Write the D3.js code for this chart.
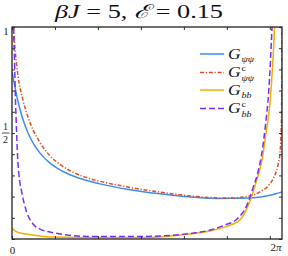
<!DOCTYPE html>
<html>
<head>
<meta charset="utf-8">
<script src="https://cdn.jsdelivr.net/npm/d3@7"></script>
<style>
  html, body { margin: 0; padding: 0; background: #fff; }
  svg { display: block; }
  text { font-family: "Liberation Serif", "DejaVu Serif", serif; }
  .tick text { font-size: 11px; fill: #222; }
</style>
</head>
<body>
<svg id="chart" width="288" height="256"></svg>
<script>
// values (tau on [0, 2pi])
var gPsiX = [0, 0.047, 0.116, 0.186, 0.303, 0.419, 0.535, 0.652, 0.884, 1.117, 1.35, 1.699, 2.048, 2.676, 3.444, 3.979, 4.771, 5.539, 6.004, 6.283];
var gPsiY = [0.788, 0.74, 0.67, 0.612, 0.535, 0.48, 0.438, 0.405, 0.358, 0.326, 0.303, 0.278, 0.26, 0.235, 0.213, 0.201, 0.191, 0.193, 0.206, 0.222];

var gPsiCX = [0.035, 0.07, 0.14, 0.256, 0.372, 0.489, 0.652, 0.884, 1.117, 1.35, 1.699, 2.048, 2.676, 3.444, 4.375, 5.073, 5.539, 5.771, 5.957, 6.096, 6.19, 6.236, 6.271, 6.283];
var gPsiCY = [1.0, 0.90, 0.77, 0.655, 0.575, 0.515, 0.455, 0.392, 0.352, 0.322, 0.292, 0.272, 0.246, 0.221, 0.199, 0.193, 0.203, 0.222, 0.25, 0.292, 0.349, 0.406, 0.56, 1.0];

var gBbX = [0, 0.07, 0.186, 0.489, 0.954, 1.582, 2.979, 4.142, 4.608, 4.957, 5.306, 5.539, 5.69, 5.818, 5.911, 6.004, 6.051, 6.085, 6.109];
var gBbY = [0.052, 0.038, 0.028, 0.019, 0.009, 0.007, 0.007, 0.024, 0.038, 0.057, 0.09, 0.179, 0.274, 0.373, 0.50, 0.642, 0.774, 0.892, 1.0];

var gBbCX = [0.035, 0.058, 0.081, 0.105, 0.128, 0.163, 0.226, 0.342, 0.489, 0.652, 0.884, 1.28, 1.815, 2.979, 4.142, 4.608, 4.957, 5.236, 5.469, 5.608, 5.725, 5.818, 5.911, 5.969, 6.016, 6.051];
var gBbCY = [1.0, 0.844, 0.656, 0.514, 0.396, 0.302, 0.222, 0.127, 0.071, 0.047, 0.033, 0.019, 0.012, 0.012, 0.026, 0.042, 0.066, 0.094, 0.16, 0.241, 0.316, 0.41, 0.56, 0.68, 0.844, 1.0];

var xTicks = [0, 1, 2, 3, 4, 5, 6];
var yTicks = [0, 0.1, 0.2, 0.3, 0.4, 0.5, 0.6, 0.7, 0.8, 0.9, 1];

var series = [
    { name: "psi",  sub: "ψψ", sup: "",  xs: gPsiX,  ys: gPsiY,  color: "#3b8bf0", dash: null },
    { name: "psiC", sub: "ψψ", sup: "c", xs: gPsiCX, ys: gPsiCY, color: "#de4e26", dash: "4,1.8,1.2,1.8" },
    { name: "bb",   sub: "bb", sup: "",  xs: gBbX,   ys: gBbY,   color: "#f0b000", dash: null },
    { name: "bbC",  sub: "bb", sup: "c", xs: gBbCX,  ys: gBbCY,  color: "#7a2cf5", dash: "6,3" }
];

var margin = { left: 12, right: 6, top: 27, bottom: 17 };
var W = 288, H = 256;

var svg = d3.select("#chart");

var x = d3.scaleLinear().domain([0, 2 * Math.PI]).range([margin.left, W - margin.right]);
var y = d3.scaleLinear().domain([0, 1]).range([H - margin.bottom, margin.top]);

// clip so the steep ends stay in the box
svg.append("clipPath").attr("id", "plotclip")
    .append("rect")
    .attr("x", x(0)).attr("y", y(1))
    .attr("width", x(2 * Math.PI) - x(0))
    .attr("height", y(0) - y(1));

// curves
var line = d3.line()
    .x(function (d) { return x(d[0]); })
    .y(function (d) { return y(d[1]); })
    .curve(d3.curveMonotoneX);

var gLines = svg.append("g").attr("clip-path", "url(#plotclip)");
series.forEach(function (s) {
    var pts = s.xs.map(function (v, i) { return [v, s.ys[i]]; });
    gLines.append("path")
        .attr("d", line(pts))
        .attr("fill", "none")
        .attr("stroke", s.color)
        .attr("stroke-width", 1.5)
        .attr("stroke-dasharray", s.dash);
});

// axes: ticks point inward, labels only at 0 (2pi done by hand)
var xLabel = function (d) { return d === 0 ? "0" : ""; };

svg.append("g")
    .attr("transform", "translate(0," + y(0) + ")")
    .call(d3.axisBottom(x).tickValues(xTicks).tickSizeInner(-3).tickSizeOuter(0).tickPadding(7).tickFormat(xLabel));
svg.append("g")
    .attr("transform", "translate(0," + y(1) + ")")
    .call(d3.axisTop(x).tickValues(xTicks).tickSizeInner(-3).tickSizeOuter(0).tickFormat(""));
svg.append("g")
    .attr("transform", "translate(" + x(0) + ",0)")
    .call(d3.axisLeft(y).tickValues(yTicks).tickSizeInner(-3).tickSizeOuter(0).tickFormat(""));
svg.append("g")
    .attr("transform", "translate(" + x(2 * Math.PI) + ",0)")
    .call(d3.axisRight(y).tickValues(yTicks).tickSizeInner(-3).tickSizeOuter(0).tickFormat(""));

svg.selectAll(".domain").remove();
svg.selectAll(".tick line").attr("stroke", "#333").attr("stroke-width", 1);
svg.selectAll(".tick text").attr("font-family", null);

// frame
svg.append("rect")
    .attr("x", x(0)).attr("y", y(1))
    .attr("width", x(2 * Math.PI) - x(0))
    .attr("height", y(0) - y(1))
    .attr("fill", "none")
    .attr("stroke", "#222")
    .attr("stroke-width", 1.3);

// 2pi label, pulled left so it fits
var lab2pi = svg.append("text")
    .attr("x", x(2 * Math.PI) - 6).attr("y", y(0) + 12)
    .attr("text-anchor", "middle")
    .attr("font-size", 11).attr("fill", "#222");
lab2pi.append("tspan").text("2");
lab2pi.append("tspan").attr("font-style", "italic").text("π");

// y labels: 1 and the fraction 1/2
svg.append("text")
    .attr("x", 6).attr("y", y(1) + 8)
    .attr("text-anchor", "middle")
    .attr("font-size", 11).attr("fill", "#222")
    .text("1");
svg.append("text")
    .attr("x", 5.5).attr("y", y(0.5) - 3)
    .attr("text-anchor", "middle")
    .attr("font-size", 10).attr("fill", "#222")
    .text("1");
svg.append("line")
    .attr("x1", 2).attr("x2", 9.5)
    .attr("y1", y(0.5)).attr("y2", y(0.5))
    .attr("stroke", "#222").attr("stroke-width", 0.8);
svg.append("text")
    .attr("x", 5.5).attr("y", y(0.5) + 10)
    .attr("text-anchor", "middle")
    .attr("font-size", 10).attr("fill", "#222")
    .text("2");

// title, stretched to the width it has in the picture
var title = svg.append("text")
    .attr("x", 55).attr("y", 18)
    .attr("textLength", 168)
    .attr("lengthAdjust", "spacingAndGlyphs")
    .attr("font-size", 19).attr("fill", "#111");
title.append("tspan").attr("font-style", "italic").text("βJ");
title.append("tspan").text(" = 5,  ");
title.append("tspan").attr("font-style", "italic").text("ℰ");
title.append("tspan").text(" = 0.15");

// legend: G with sub/superscripts as tspans of one text
var legY = [54, 72.5, 90, 108.5];
series.forEach(function (s, i) {
    var g = svg.append("g").attr("transform", "translate(200," + legY[i] + ")");
    g.append("line")
        .attr("x1", 0).attr("x2", 24)
        .attr("stroke", s.color)
        .attr("stroke-width", 1.5)
        .attr("stroke-dasharray", s.dash);
    var t = g.append("text")
        .attr("transform", "translate(28,4.5) scale(1.25,1)")
        .attr("fill", "#111");
    t.append("tspan").attr("font-size", 14).attr("font-style", "italic").text("G");
    if (s.sup) {
        t.append("tspan").attr("font-size", 8).attr("dx", 0.8).attr("dy", -6.5).text(s.sup);
        t.append("tspan").attr("font-size", 8).attr("font-style", "italic")
            .attr("dx", -3.6).attr("dy", 10.5).text(s.sub);
    } else {
        t.append("tspan").attr("font-size", 8).attr("font-style", "italic")
            .attr("dx", 0.8).attr("dy", 3).text(s.sub);
    }
});
</script>
</body>
</html>
